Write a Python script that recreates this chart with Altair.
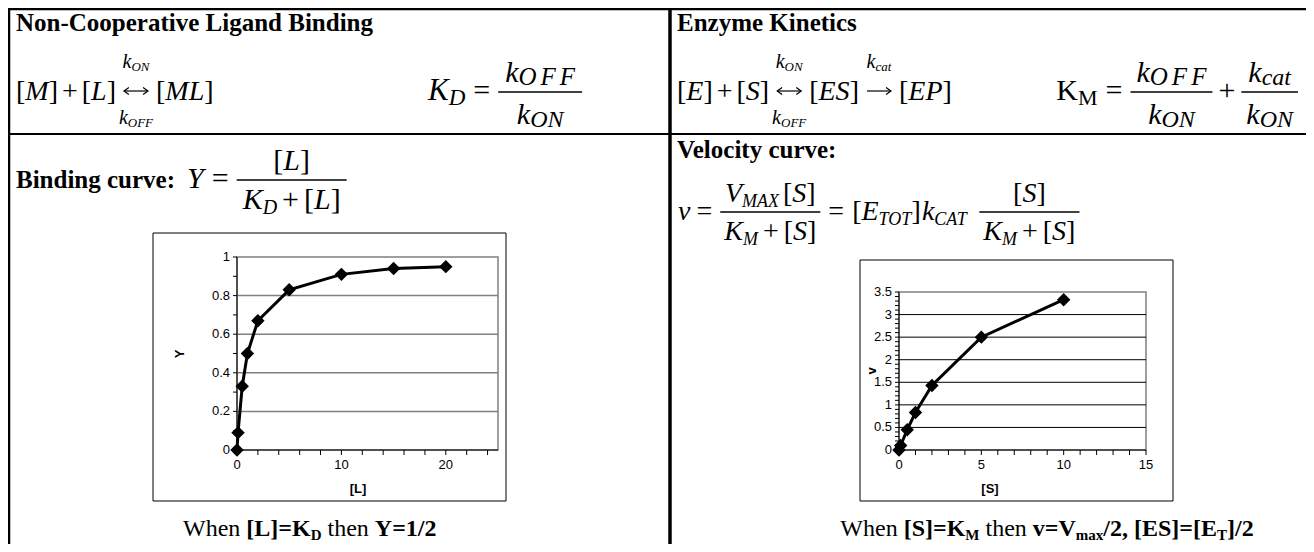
import altair as alt
import pandas as pd

# ---------------- data ----------------
ligand_L = [0, 0.1, 0.5, 1, 2, 5, 10, 15, 20]
binding_Y = [0, 0.09, 0.33, 0.5, 0.67, 0.83, 0.91, 0.94, 0.95]
subst_S = [0, 0.1, 0.5, 1, 2, 5, 10]
veloc_v = [0, 0.1, 0.45, 0.83, 1.43, 2.5, 3.33]

bind_x_dom = [0, 25]
bind_y_dom = [0, 1]
bind_x_ticks = [0, 2, 4, 6, 8, 10, 12, 14, 16, 18, 20, 22, 24]
bind_x_labeled = [0, 10, 20]
bind_y_ticks = [0, 0.1, 0.2, 0.3, 0.4, 0.5, 0.6, 0.7, 0.8, 0.9, 1]
bind_y_labeled = [0, 0.2, 0.4, 0.6, 0.8, 1]
bind_grid = [0.2, 0.4, 0.6, 0.8]

vel_x_dom = [0, 15]
vel_y_dom = [0, 3.5]
vel_x_ticks = [0, 1, 2, 3, 4, 5, 6, 7, 8, 9, 10, 11, 12, 13, 14, 15]
vel_x_labeled = [0, 5, 10, 15]
vel_y_ticks = [round(i * 0.1, 1) for i in range(36)]
vel_y_labeled = [0, 0.5, 1, 1.5, 2, 2.5, 3, 3.5]
vel_grid = [0.5, 1, 1.5, 2, 2.5, 3]

# ---------------- text layout helpers (page px -> canvas px) ----------------
PAGE = 8
def cx(v):
    return v - PAGE

W_R = {'[': 333, ']': 333, '+': 564, '=': 564, ' ': 250, '/': 278, ',': 250,
       'W': 944, 'h': 500, 'e': 444, 'n': 500, 't': 278, 'K': 722, 'M': 889}
W_I = {'M': 833, 'L': 556, 'E': 611, 'S': 500, 'P': 611, 'K': 667, 'D': 722,
       'Y': 556, 'k': 444, 'v': 444, 'V': 611, 'O': 722, 'N': 667, 'F': 611,
       'c': 444, 'a': 500, 't': 278, 'A': 611, 'X': 611, 'T': 556, 'C': 667}
W_B = {'N': 722, 'o': 500, 'n': 556, '-': 333, 'C': 722, 'p': 556, 'e': 444,
       'r': 444, 'a': 500, 't': 333, 'i': 278, 'v': 500, ' ': 250, 'L': 667,
       'g': 500, 'd': 556, 'B': 667, 'c': 444, 'u': 556, ':': 333, 'E': 667,
       'z': 444, 'y': 500, 'm': 833, 'K': 778, 's': 389, 'l': 278, '[': 333,
       ']': 333, '=': 570, 'D': 722, 'Y': 722, '1': 500, '/': 278, '2': 500,
       'V': 722, 'x': 500, ',': 250, 'S': 556, 'T': 667, 'M': 944, 'W': 1000,
       'h': 556}
TAB = {'r': W_R, 'i': W_I, 'b': W_B}

texts = []
rules = []
heads = []

def tw(t, st, sz, ls=0):
    tab = TAB[st]
    return sum(tab.get(ch, 500) for ch in t) / 1000.0 * sz + ls * max(len(t) - 1, 0)

def P(t, st, sz, dy=0, pre=0, ls=0):
    return (t, st, sz, dy, pre, ls)

def wid(items):
    return sum(p[4] + tw(p[0], p[1], p[2], p[5]) for p in items)

def put(x, y, t, st, sz, ls):
    if ls:
        for ch in t:
            put(x, y, ch, st, sz, 0)
            x += tw(ch, st, sz) + ls
        return
    lead = len(t) - len(t.lstrip(' '))
    x += lead * TAB[st].get(' ', 250) / 1000.0 * sz
    t = t.strip(' ')
    if t:
        texts.append(dict(x=cx(x), y=cx(y), t=t, s=sz, st=st))

def seq(x, y, items):
    for (t, st, sz, dy, pre, ls) in items:
        x += pre
        put(x, y + dy, t, st, sz, ls)
        x += tw(t, st, sz, ls)
    return x

def hline(x1, x2, y, w):
    rules.append(dict(x=cx(x1), x2=cx(x2), y=cx(y), y2=cx(y), w=w))

def vline(x, y1, y2, w):
    rules.append(dict(x=cx(x), x2=cx(x), y=cx(y1), y2=cx(y2), w=w))

def frac(x, ybar, ynum, yden, num, den, pad=4):
    w = max(wid(num), wid(den)) + 2 * pad
    seq(x + (w - wid(num)) / 2, ynum, num)
    seq(x + (w - wid(den)) / 2, yden, den)
    hline(x, x + w, ybar, 1.3)
    return x + w

def arrow(x, y, length, both):
    hline(x, x + length, y, 1.2)
    heads.append(dict(x=cx(x + length), y=cx(y), d='R'))
    if both:
        heads.append(dict(x=cx(x), y=cx(y), d='L'))
    return x + length

R = 28       # equation size
H = 25       # bold heading size
ALEN = 24    # arrow length
AY = 91      # arrow height (math axis of the reaction line)
AG = 8       # gap around arrows

# ---- table lines ----
hline(8, 1314, 9, 2.5)
vline(9, 8, 544, 2.5)
vline(670, 8, 544, 3.5)
hline(8, 1314, 134, 2.2)

kon_s = [P('k', 'i', 20), P('ON', 'i', 13, dy=3)]
koff_s = [P('k', 'i', 20), P('OFF', 'i', 13, dy=3)]
kcat_s = [P('k', 'i', 20), P('cat', 'i', 13, dy=3)]

# ---- row 1, left ----
seq(16, 31, [P('Non-Cooperative Ligand Binding', 'b', H)])
x = seq(16, 100, [P('[', 'r', R), P('M', 'i', R), P(']', 'r', R), P('+', 'r', R, pre=4),
                  P('[', 'r', R, pre=4), P('L', 'i', R), P(']', 'r', R)])
ac = x + AG + ALEN / 2
x = arrow(x + AG, AY, ALEN, True)
x = seq(x, 100, [P('[', 'r', R, pre=AG), P('ML', 'i', R), P(']', 'r', R)])
seq(ac - wid(kon_s) / 2, 68, kon_s)
seq(ac - wid(koff_s) / 2, 124, koff_s)

kon_b = [P('k', 'i', 30), P('ON', 'i', 24, dy=3)]
koff_b = [P('k', 'i', 30), P('OFF', 'i', 25, dy=3, ls=4)]
kcat_b = [P('k', 'i', 30), P('cat', 'i', 24, dy=3)]

x = seq(428, 100, [P('K', 'i', 31), P('D', 'i', 23, dy=5), P('=', 'r', 30, pre=8)])
frac(x + 8, 92, 82, 124, koff_b, kon_b, pad=7)

# ---- row 1, right ----
seq(677, 31, [P('Enzyme Kinetics', 'b', H)])
x = seq(677, 100, [P('[', 'r', R), P('E', 'i', R), P(']', 'r', R), P('+', 'r', R, pre=4),
                   P('[', 'r', R, pre=4), P('S', 'i', R), P(']', 'r', R)])
ac1 = x + AG + ALEN / 2
x = arrow(x + AG, AY, ALEN, True)
x = seq(x, 100, [P('[', 'r', R, pre=AG), P('ES', 'i', R), P(']', 'r', R)])
ac2 = x + AG + ALEN / 2
x = arrow(x + AG, AY, ALEN, False)
x = seq(x, 100, [P('[', 'r', R, pre=AG), P('EP', 'i', R), P(']', 'r', R)])
seq(ac1 - wid(kon_s) / 2, 68, kon_s)
seq(ac1 - wid(koff_s) / 2, 124, koff_s)
seq(ac2 - wid(kcat_s) / 2, 68, kcat_s)

km_head = [P('K', 'r', 30), P('M', 'r', 22, dy=5), P('=', 'r', 30, pre=8)]
f1w = max(wid(koff_b), wid(kon_b)) + 12
f2w = max(wid(kcat_b), wid(kon_b)) + 10
plus_w = tw('+', 'r', 30) + 12
start = 1298 - (wid(km_head) + 8 + f1w + plus_w + f2w)
x = seq(start, 100, km_head)
x = frac(x + 8, 92, 82, 124, koff_b, kon_b, pad=6)
x = seq(x, 100, [P('+', 'r', 30, pre=6)])
frac(x + 6, 92, 82, 124, kcat_b, kon_b, pad=5)

# ---- row 2, left ----
E2 = 30
x = seq(16, 188, [P('Binding curve:', 'b', H), P('Y', 'i', E2, pre=12), P('=', 'r', E2, pre=8)])
frac(x + 8, 180, 170, 209,
     [P('[', 'r', E2), P('L', 'i', E2), P(']', 'r', E2)],
     [P('K', 'i', E2), P('D', 'i', 20, dy=5), P('+', 'r', E2, pre=5), P('[', 'r', E2, pre=5),
      P('L', 'i', E2), P(']', 'r', E2)], pad=6)

# ---- row 2, right ----
seq(677, 158, [P('Velocity curve:', 'b', H)])
den_km = [P('K', 'i', R), P('M', 'i', 18, dy=5), P('+', 'r', R, pre=5), P('[', 'r', R, pre=5),
          P('S', 'i', R), P(']', 'r', R)]
x = seq(678, 220, [P('v', 'i', R), P('=', 'r', R, pre=6)])
x = frac(x + 8, 212, 202, 240,
         [P('V', 'i', R), P('MAX', 'i', 18, dy=5), P('[', 'r', R, pre=4), P('S', 'i', R), P(']', 'r', R)],
         den_km)
x = seq(x, 220, [P('=', 'r', R, pre=8), P('[', 'r', R, pre=8), P('E', 'i', R), P('TOT', 'i', 18, dy=5),
                 P(']', 'r', R), P('k', 'i', R, pre=1), P('CAT', 'i', 18, dy=5)])
frac(x + 12, 212, 202, 240, [P('[', 'r', R), P('S', 'i', R), P(']', 'r', R)], den_km)

# ---- captions ----
C = 24
cap_l = [P('When ', 'r', C), P('[L]=K', 'b', C), P('D', 'b', 15, dy=4), P(' then ', 'r', C),
         P('Y=1/2', 'b', C)]
seq(183, 536, cap_l)
cap_r = [P('When ', 'r', C), P('[S]=K', 'b', C), P('M', 'b', 15, dy=4), P(' then ', 'r', C),
         P('v=V', 'b', C), P('max', 'b', 15, dy=4), P('/2, [ES]=[E', 'b', C), P('T', 'b', 15, dy=4),
         P(']/2', 'b', C)]
seq(1047 - wid(cap_r) / 2, 536, cap_r)

# ---------------- background layers ----------------
rules_df = pd.DataFrame(rules)
texts_df = pd.DataFrame(texts)
heads_df = pd.DataFrame(heads)
frames_df = pd.DataFrame([dict(x=cx(153), x2=cx(506), y=cx(233), y2=cx(501)),
                          dict(x=cx(860), x2=cx(1173), y=cx(260), y2=cx(501))])
ax_titles = pd.DataFrame([dict(x=cx(358), y=cx(493), t='[L]', rot=0),
                          dict(x=cx(990), y=cx(493), t='[S]', rot=0),
                          dict(x=cx(184), y=cx(354), t='Y', rot=1),
                          dict(x=cx(876), y=cx(371), t='v', rot=1)])

NX = alt.X('x:Q', scale=None, axis=None)
NY = alt.Y('y:Q', scale=None, axis=None)

rules_layer = alt.Chart(rules_df).mark_rule(color='black', strokeCap='butt').encode(
    x=NX, x2='x2:Q', y=NY, y2='y2:Q', size=alt.Size('w:Q', scale=None, legend=None))
frames_layer = alt.Chart(frames_df).mark_rect(filled=False, stroke='black', strokeWidth=1).encode(
    x=NX, x2='x2:Q', y=NY, y2='y2:Q')

def head_layer(direction, path):
    return alt.Chart(heads_df[heads_df.d == direction]).mark_point(
        shape=path, filled=False, stroke='black', strokeWidth=1.2, size=49, opacity=1).encode(
        x=NX, y=NY)

heads_r = head_layer('R', 'M -1.4 -1 L 0 0 L -1.4 1')
heads_l = head_layer('L', 'M 1.4 -1 L 0 0 L 1.4 1')

def text_layer(style, font='Liberation Serif', **kw):
    return alt.Chart(texts_df[texts_df.st == style]).mark_text(
        align='left', baseline='alphabetic', font=font, color='black', **kw).encode(
        x=NX, y=NY, text='t:N', size=alt.Size('s:Q', scale=None, legend=None))

t_reg = text_layer('r')
t_ita = text_layer('i', fontStyle='italic')
t_bold = text_layer('b', fontWeight='bold')

AX_FONT = 'Liberation Sans'
axt_h = alt.Chart(ax_titles[ax_titles.rot == 0]).mark_text(
    font=AX_FONT, fontSize=13, fontWeight='bold', color='black', align='center',
    baseline='alphabetic').encode(x=NX, y=NY, text='t:N')
axt_v = alt.Chart(ax_titles[ax_titles.rot == 1]).mark_text(
    font=AX_FONT, fontSize=13, fontWeight='bold', color='black', align='center',
    baseline='alphabetic', angle=270).encode(x=NX, y=NY, text='t:N')

# ---------------- small Excel-style charts ----------------
def small_chart(xs, ys, xdom, ydom, xrange, yrange, xticks, xlab, yticks, ylab,
                grid_vals, grid_color, grid_w):
    xsc = alt.Scale(domain=xdom, range=xrange, nice=False, zero=False)
    ysc = alt.Scale(domain=ydom, range=yrange, nice=False, zero=False)

    def XE(f):
        return alt.X(f, scale=xsc, axis=None)

    def YE(f):
        return alt.Y(f, scale=ysc, axis=None)

    data = pd.DataFrame({'a': xs, 'b': ys})
    grid_df = pd.DataFrame({'g': grid_vals, 'x0': [xdom[0]] * len(grid_vals),
                            'x1': [xdom[1]] * len(grid_vals)})
    box_df = pd.DataFrame({'x0': [xdom[0]], 'x1': [xdom[1]], 'y0': [ydom[0]], 'y1': [ydom[1]]})
    xt_df = pd.DataFrame({'v': xticks, 'y0': [ydom[0]] * len(xticks)})
    yt_df = pd.DataFrame({'v': yticks, 'x0': [xdom[0]] * len(yticks)})
    xl_df = pd.DataFrame({'v': xlab, 'y0': [ydom[0]] * len(xlab), 'lab': ['%g' % v for v in xlab]})
    yl_df = pd.DataFrame({'v': ylab, 'x0': [xdom[0]] * len(ylab), 'lab': ['%g' % v for v in ylab]})

    box = alt.Chart(box_df).mark_rect(filled=False, stroke='#808080', strokeWidth=1.5).encode(
        x=XE('x0:Q'), x2='x1:Q', y=YE('y0:Q'), y2='y1:Q')
    grid = alt.Chart(grid_df).mark_rule(color=grid_color, strokeWidth=grid_w).encode(
        x=XE('x0:Q'), x2='x1:Q', y=YE('g:Q'))
    xdomain = alt.Chart(box_df).mark_rule(color='black', strokeWidth=1).encode(
        x=XE('x0:Q'), x2='x1:Q', y=YE('y0:Q'))
    ydomain = alt.Chart(box_df).mark_rule(color='black', strokeWidth=1).encode(
        x=XE('x0:Q'), y=YE('y0:Q'), y2='y1:Q')
    xt = alt.Chart(xt_df).mark_tick(orient='vertical', size=5, thickness=1, color='black',
                                    yOffset=2.5, opacity=1).encode(x=XE('v:Q'), y=YE('y0:Q'))
    yt = alt.Chart(yt_df).mark_tick(orient='horizontal', size=4, thickness=1, color='black',
                                    xOffset=-2, opacity=1).encode(x=XE('x0:Q'), y=YE('v:Q'))
    xl = alt.Chart(xl_df).mark_text(font=AX_FONT, fontSize=13, color='black', align='center',
                                    baseline='top', dy=9).encode(
        x=XE('v:Q'), y=YE('y0:Q'), text='lab:N')
    yl = alt.Chart(yl_df).mark_text(font=AX_FONT, fontSize=13, color='black', align='right',
                                    baseline='middle', dx=-7).encode(
        x=XE('x0:Q'), y=YE('v:Q'), text='lab:N')
    line = alt.Chart(data).mark_line(color='black', strokeWidth=3).encode(
        x=XE('a:Q'), y=YE('b:Q'))
    pts = alt.Chart(data).mark_point(shape='diamond', filled=True, color='black', size=180,
                                     opacity=1).encode(x=XE('a:Q'), y=YE('b:Q'))
    return alt.layer(box, grid, xdomain, ydomain, xt, yt, xl, yl, line, pts)

left_chart = small_chart(
    ligand_L, binding_Y, bind_x_dom, bind_y_dom,
    [cx(237), cx(498)], [cx(450), cx(257)],
    bind_x_ticks, bind_x_labeled, bind_y_ticks, bind_y_labeled,
    bind_grid, '#808080', 1.5)

right_chart = small_chart(
    subst_S, veloc_v, vel_x_dom, vel_y_dom,
    [cx(899), cx(1146)], [cx(450), cx(292)],
    vel_x_ticks, vel_x_labeled, vel_y_ticks, vel_y_labeled,
    vel_grid, 'black', 1)

chart = alt.layer(
    frames_layer, rules_layer, heads_r, heads_l, t_reg, t_ita, t_bold, axt_h, axt_v,
    left_chart, right_chart
).resolve_scale(x='independent', y='independent').properties(
    width=1298, height=536, autosize=alt.AutoSizeParams(type='none'), padding=0
).configure_view(stroke=None)

chart.save('out.html', embed_options={'renderer': 'svg', 'actions': False})
